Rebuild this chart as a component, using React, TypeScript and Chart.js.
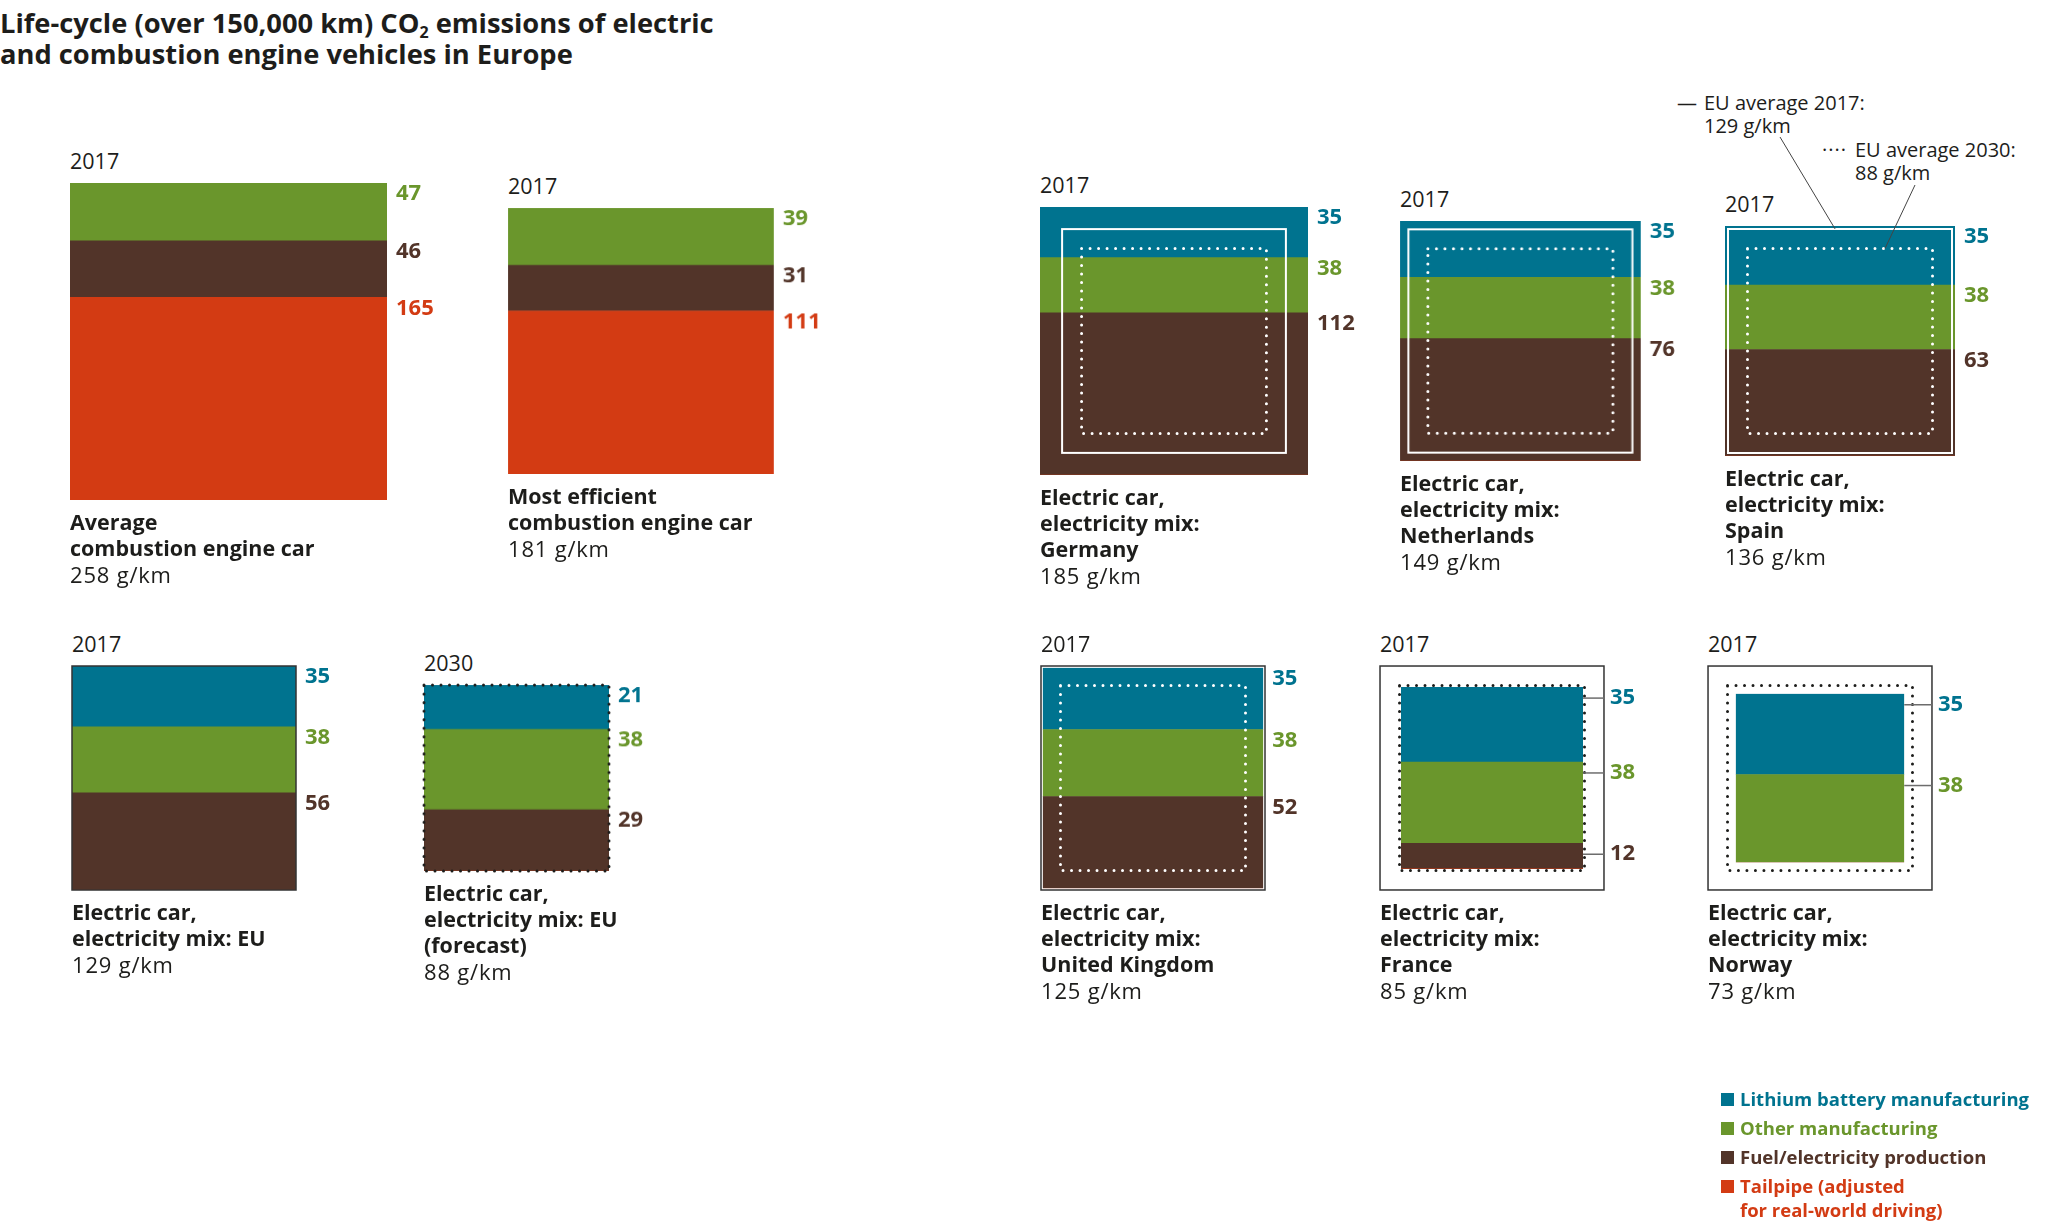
import React, { useEffect, useRef } from "react";
import { Chart, registerables } from "chart.js";
Chart.register(...registerables);

// ---------- data ----------
const segmentNames = [
  "Lithium battery manufacturing",
  "Other manufacturing",
  "Fuel/electricity production",
  "Tailpipe (adjusted for real-world driving)",
];
const years = ["2017", "2017", "2017", "2017", "2017", "2017", "2030", "2017", "2017", "2017"];
const captionBold = [
  ["Average", "combustion engine car"],
  ["Most efficient", "combustion engine car"],
  ["Electric car,", "electricity mix:", "Germany"],
  ["Electric car,", "electricity mix:", "Netherlands"],
  ["Electric car,", "electricity mix:", "Spain"],
  ["Electric car,", "electricity mix: EU"],
  ["Electric car,", "electricity mix: EU", "(forecast)"],
  ["Electric car,", "electricity mix:", "United Kingdom"],
  ["Electric car,", "electricity mix:", "France"],
  ["Electric car,", "electricity mix:", "Norway"],
];
const battery = [0, 0, 35, 35, 35, 35, 21, 35, 35, 35];
const otherMfg = [47, 39, 38, 38, 38, 38, 38, 38, 38, 38];
const fuelProd = [46, 31, 112, 76, 63, 56, 29, 52, 12, 0];
const tailpipe = [165, 111, 0, 0, 0, 0, 0, 0, 0, 0];
const euAverage2017 = 129;
const euAverage2030 = 88;
const show2017Ref = [false, false, true, true, true, true, false, true, true, true];
const show2030Ref = [false, false, true, true, true, false, true, true, true, true];

// ---------- styles / layout ----------
const COLORS = { battery: "#00738f", other: "#6a962c", fuel: "#523429", tail: "#d33b13" };
const legendColors = [COLORS.battery, COLORS.other, COLORS.fuel, COLORS.tail];
const TEXT = "#1d1d1b";
const FONT = "'Open Sans', 'DejaVu Sans', sans-serif";
const K = 317 / Math.sqrt(258);
const sideFor = (v: number) => K * Math.sqrt(v);
const cardLeft = [70, 508, 1040, 1400, 1725, 72, 424, 1041, 1380, 1708];
const cardRow = [0, 0, 0, 0, 0, 1, 1, 1, 1, 1];
const rowCenter = [341, 778];
const PAD = 8;
const LABEL_W = 75;

type Geo = { total: number; s: number; outer: number; boxTop: number; left: number };
const geos: Geo[] = years.map((_, i) => {
  const total = battery[i] + otherMfg[i] + fuelProd[i] + tailpipe[i];
  const s = sideFor(total);
  const outer = Math.max(
    s,
    show2017Ref[i] ? sideFor(euAverage2017) : 0,
    show2030Ref[i] ? sideFor(euAverage2030) : 0
  );
  return { total, s, outer, boxTop: rowCenter[cardRow[i]] - outer / 2, left: cardLeft[i] };
});

const cardPlugin = {
  id: "card",
  afterDatasetsDraw(chart: any, _args: any, opts: any) {
    const { ctx, chartArea: a, scales } = chart;
    const y = scales.y;
    const total = opts.total;
    const y0 = y.getPixelForValue(0);
    const yT = y.getPixelForValue(total);
    const s = y0 - yT;
    const cx = (a.left + a.right) / 2;
    const cy = (y0 + yT) / 2;
    ctx.save();
    let refHalf = s / 2;
    if (opts.show2030) {
      const h = (s * Math.sqrt(euAverage2030 / total)) / 2;
      ctx.strokeStyle = total > euAverage2030 ? "#ffffff" : TEXT;
      ctx.lineWidth = 3;
      ctx.lineCap = "round";
      ctx.setLineDash([0, 8.5]);
      ctx.strokeRect(cx - h, cy - h, 2 * h, 2 * h);
    }
    if (opts.show2017) {
      const h = (s * Math.sqrt(euAverage2017 / total)) / 2;
      ctx.setLineDash([]);
      ctx.lineCap = "butt";
      ctx.lineWidth = total > euAverage2017 ? 2 : 1.5;
      ctx.strokeStyle = total > euAverage2017 ? "#ffffff" : "#333333";
      ctx.strokeRect(cx - h, cy - h, 2 * h, 2 * h);
      refHalf = Math.max(refHalf, h);
    }
    const leader = refHalf - s / 2 > 5;
    ctx.setLineDash([]);
    let cum = 0;
    chart.data.datasets.forEach((ds: any) => {
      const v = ds.data[0];
      cum += v;
      if (!v) return;
      const ly = y.getPixelForValue(cum) + 11;
      let lx = a.right + 9;
      if (leader) {
        const end = cx + refHalf + 1;
        ctx.strokeStyle = "#6d6d6d";
        ctx.lineWidth = 1.5;
        ctx.beginPath();
        ctx.moveTo(a.right, ly);
        ctx.lineTo(end, ly);
        ctx.stroke();
        lx = end + 5;
      }
      ctx.fillStyle = ds.backgroundColor;
      ctx.font = `bold 22px ${FONT}`;
      ctx.textBaseline = "middle";
      ctx.textAlign = "left";
      ctx.fillText(String(v), lx, ly);
    });
    ctx.restore();
  },
};

function BarCard({ i }: { i: number }) {
  const ref = useRef<HTMLCanvasElement>(null);
  const g = geos[i];
  const W = g.outer + 2 * PAD + LABEL_W;
  const H = g.outer + 2 * PAD;
  useEffect(() => {
    if (!ref.current) return;
    const padL = PAD + (g.outer - g.s) / 2;
    const padT = PAD + (g.outer - g.s) / 2;
    const chart = new Chart(ref.current, {
      type: "bar",
      data: {
        labels: [captionBold[i].join(" ")],
        datasets: [
          { label: segmentNames[3], data: [tailpipe[i]], backgroundColor: COLORS.tail },
          { label: segmentNames[2], data: [fuelProd[i]], backgroundColor: COLORS.fuel },
          { label: segmentNames[1], data: [otherMfg[i]], backgroundColor: COLORS.other },
          { label: segmentNames[0], data: [battery[i]], backgroundColor: COLORS.battery },
        ],
      },
      options: {
        responsive: false,
        animation: false,
        devicePixelRatio: 1,
        layout: { padding: { left: padL, top: padT, right: W - padL - g.s, bottom: H - padT - g.s } },
        datasets: { bar: { barPercentage: 1, categoryPercentage: 1, borderWidth: 0 } },
        scales: {
          x: { stacked: true, display: false },
          y: { stacked: true, display: false, min: 0, max: g.total },
        },
        plugins: {
          legend: { display: false },
          tooltip: { enabled: false },
          card: { total: g.total, show2017: show2017Ref[i], show2030: show2030Ref[i] },
        } as any,
      },
      plugins: [cardPlugin],
    });
    return () => chart.destroy();
  }, []);
  const boxBottom = g.boxTop + g.outer;
  return (
    <>
      <div
        style={{
          position: "absolute",
          left: g.left,
          top: g.boxTop - 34,
          fontSize: 21.5,
          lineHeight: "24px",
          color: TEXT,
          fontFamily: FONT,
        }}
      >
        {years[i]}
      </div>
      <canvas
        ref={ref}
        width={W}
        height={H}
        style={{ position: "absolute", left: g.left - PAD, top: g.boxTop - PAD, width: W, height: H }}
      />
      <div
        style={{
          position: "absolute",
          left: g.left,
          top: boxBottom + 9,
          fontSize: 21.5,
          lineHeight: "26px",
          color: TEXT,
          fontFamily: FONT,
          whiteSpace: "nowrap",
        }}
      >
        {captionBold[i].map((t, k) => (
          <div key={k} style={{ fontWeight: 700 }}>
            {t}
          </div>
        ))}
        <div style={{ fontSize: 22, letterSpacing: 0.8 }}>{`${g.total} g/km`}</div>
      </div>
    </>
  );
}

export default function App() {
  const es = geos[4];
  const esCx = es.left + es.outer / 2;
  const esCy = rowCenter[0];
  const top2017 = esCy - sideFor(euAverage2017) / 2;
  const top2030 = esCy - sideFor(euAverage2030) / 2;
  return (
    <div
      style={{
        position: "absolute",
        left: 0,
        top: 0,
        width: 2048,
        height: 1226,
        background: "#ffffff",
        overflow: "hidden",
        fontFamily: FONT,
        color: TEXT,
      }}
    >
      <div
        style={{
          position: "absolute",
          left: 0,
          top: 7,
          fontSize: 27.3,
          lineHeight: "31px",
          fontWeight: 700,
          whiteSpace: "nowrap",
        }}
      >
        <div>
          Life-cycle (over 150,000 km) CO<sub style={{ fontSize: 16, verticalAlign: "-5px", lineHeight: 0 }}>2</sub> emissions of electric
        </div>
        <div>and combustion engine vehicles in Europe</div>
      </div>

      {years.map((_, i) => (
        <BarCard key={i} i={i} />
      ))}

      {/* EU average annotations */}
      <div style={{ position: "absolute", left: 1677, top: 91, fontSize: 20, lineHeight: "23px", whiteSpace: "nowrap" }}>
        <div>
          <span style={{ display: "inline-block", width: 27 }}>—</span>EU average 2017:
        </div>
        <div style={{ paddingLeft: 27 }}>129 g/km</div>
      </div>
      <div style={{ position: "absolute", left: 1822, top: 138, fontSize: 20, lineHeight: "23px", whiteSpace: "nowrap" }}>
        <div>
          <span style={{ display: "inline-block", width: 33, letterSpacing: 1 }}>····</span>EU average 2030:
        </div>
        <div style={{ paddingLeft: 33 }}>88 g/km</div>
      </div>
      <svg style={{ position: "absolute", left: 0, top: 0 }} width={2048} height={1226}>
        <line x1={1780} y1={137} x2={esCx - 5} y2={top2017} stroke="#444" strokeWidth={1} />
        <line x1={1915} y1={185} x2={esCx + 45} y2={top2030} stroke="#444" strokeWidth={1} />
      </svg>

      {/* legend */}
      <div
        style={{
          position: "absolute",
          left: 1721,
          top: 1087,
          fontSize: 18.5,
          fontWeight: 700,
          lineHeight: "24px",
        }}
      >
        {segmentNames.map((n, k) => (
          <div key={k} style={{ display: "flex", alignItems: "flex-start", color: legendColors[k], marginBottom: 5 }}>
            <span
              style={{
                display: "inline-block",
                width: 13,
                height: 13,
                background: legendColors[k],
                marginTop: 6,
                marginRight: 6,
                flex: "none",
              }}
            />
            <span style={{ whiteSpace: "pre" }}>
              {k === 3 ? "Tailpipe (adjusted\nfor real-world driving)" : n}
            </span>
          </div>
        ))}
      </div>
    </div>
  );
}
